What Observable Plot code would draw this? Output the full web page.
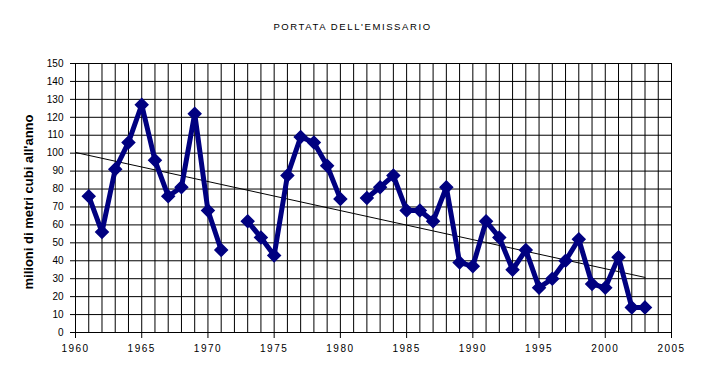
<!DOCTYPE html>
<html><head><meta charset="utf-8">
<script src="https://cdn.jsdelivr.net/npm/d3@7"></script>
<script src="https://cdn.jsdelivr.net/npm/@observablehq/plot@0.6"></script>
<style>
body{margin:0;background:#fff;}
#chart svg{font-family:"Liberation Sans",Arial,sans-serif;background:#fff;}
</style>
</head><body><div id="chart"></div>
<script>
const title = "PORTATA DELL'EMISSARIO";
const yLabel = "milioni di metri cubi all'anno";
const years = [1961,1962,1963,1964,1965,1966,1967,1968,1969,1970,1971,1972,1973,1974,1975,1976,1977,1978,1979,1980,1981,1982,1983,1984,1985,1986,1987,1988,1989,1990,1991,1992,1993,1994,1995,1996,1997,1998,1999,2000,2001,2002,2003];
const values = [76,56,91,106,127,96,76,81,122,68,46,null,62,53,43,87.5,109,106,93,74.5,null,75,81,87.5,68,68,62,81,39,37,62,53,35,46,25,30,40,52,27,25,42,14,14];
const xTicks = [1960,1965,1970,1975,1980,1985,1990,1995,2000,2005];
const yTicks = [0,10,20,30,40,50,60,70,80,90,100,110,120,130,140,150];
const gridYears = d3.range(1960, 2006);
const trendYears = [1960, 2003];

const data = years.map((year, i) => ({year, value: values[i]}));
const defined = data.filter(d => d.value != null);

// least-squares trend line (as Excel's linear trendline)
const mx = d3.mean(defined, d => d.year), my = d3.mean(defined, d => d.value);
const slope = d3.sum(defined, d => (d.year - mx) * (d.value - my)) / d3.sum(defined, d => (d.year - mx) ** 2);
const trend = trendYears.map(year => ({year, value: my + slope * (year - mx)}));

const navy = "#000080";
const chart = Plot.plot({
  width: 705, height: 381,
  marginLeft: 75, marginRight: 34, marginTop: 63, marginBottom: 49,
  x: {domain: [1960, 2005]},
  y: {domain: [0, 150]},
  marks: [
    Plot.gridX(gridYears, {stroke: "black", strokeOpacity: 1, strokeWidth: 1}),
    Plot.gridY(yTicks, {stroke: "black", strokeOpacity: 1, strokeWidth: 1}),
    Plot.axisX(xTicks, {tickSize: 6, tickPadding: 6, fontSize: 10, tickFormat: d => String(d), label: null}),
    Plot.axisY(yTicks, {tickSize: 5, tickPadding: 7, fontSize: 10, label: null}),
    Plot.line(trend, {x: "year", y: "value", stroke: "black", strokeWidth: 1}),
    Plot.line(data, {x: "year", y: "value", stroke: navy, strokeWidth: 5, strokeLinejoin: "miter"}),
    Plot.dot(defined, {x: "year", y: "value", symbol: "diamond2", r: 5.6, fill: navy, stroke: navy, strokeWidth: 1.5}),
    Plot.text([title], {frameAnchor: "top", dy: -40, dx: -21, fontSize: 9.5}),
    Plot.text([yLabel], {frameAnchor: "left", textAnchor: "middle", dx: -47, dy: 4, rotate: -90, fontSize: 13, fontWeight: "bold"})
  ]
});
document.getElementById("chart").appendChild(chart);
d3.select(chart).selectAll('g[aria-label="x-axis tick label"] text').style("letter-spacing", "1.5px");
d3.select(chart).selectAll("text").filter(function(){ return this.textContent === title; }).style("letter-spacing", "1.6px");
</script>
</body></html>
